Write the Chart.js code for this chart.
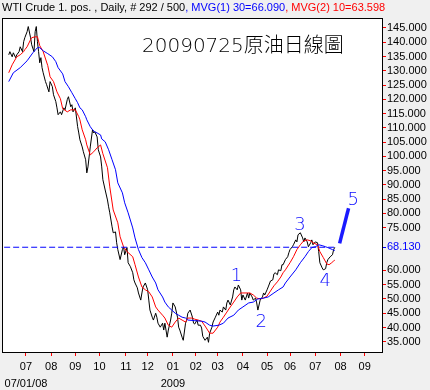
<!DOCTYPE html>
<html>
<head>
<meta charset="utf-8">
<script src="https://cdn.jsdelivr.net/npm/chart.js@4.4.1/dist/chart.umd.min.js"></script>
<style>
  html, body { margin: 0; padding: 0; background: #f0f0f0; }
  canvas { display: block; }
</style>
</head>
<body>
<canvas id="chart" width="430" height="390"></canvas>
<script>
// x values are trading days counted from 2008-07-01 (day 0)
const monthTickDays = [0, 22, 43, 64, 87, 106, 128, 148, 167, 189, 210, 230, 252, 274, 295];
const monthLabels = [["07", "07/01/08"], "08", "09", "10", "11", "12", ["01", "2009"], "02", "03", "04", "05", "06", "07", "08", "09"];

const priceTicks = [145, 140, 135, 130, 125, 120, 115, 110, 105, 100, 95, 90, 85, 80, 75, 68.13, 60, 55, 50, 45, 40, 35];
const levelValue = 68.13;

const priceDays = [-15, -14, -12, -11, -9, -8, -6, -5, -3, -2, -1, 1, 2, 4, 5, 7, 8, 9, 10, 11, 12, 13, 14, 15, 17, 18, 20, 21, 23, 24,
  26, 27, 28, 30, 31, 33, 34, 36, 37, 39, 40, 41, 43, 45, 46, 47, 49, 50, 52, 53, 54, 56, 58, 59, 60, 62, 63, 65, 66, 67,
  69, 71, 72, 73, 75, 76, 78, 79, 80, 82, 84, 85, 86, 88, 89, 91, 93, 94, 95, 97, 98, 100, 101, 102, 104, 106, 107, 108, 110, 111,
  113, 114, 115, 117, 119, 120, 121, 123, 124, 126, 127, 128, 130, 132, 133, 134, 136, 137, 139, 140, 141, 143, 145, 146, 147, 149, 150, 152, 153, 154,
  156, 158, 159, 160, 162, 163, 165, 167, 168, 169, 171, 172, 174, 175, 176, 178, 180, 181, 182, 184, 185, 187, 188, 189, 191, 193, 194, 195, 197, 198,
  200, 201, 202, 204, 206, 207, 208, 210, 211, 213, 215, 216, 217, 219, 220, 222, 223, 224, 226, 228, 229, 230, 232, 233, 235, 236, 237, 239, 241, 242,
  243, 245, 246, 248, 249, 250, 252, 254, 255, 256, 258, 259, 261, 262, 263, 265, 267, 268, 269];
const priceValues = [135.6, 136.7, 134.9, 136.3, 134.6, 135.6, 136.7, 138.4, 136.7, 140.2, 141.6, 143.7, 145.5, 141.6, 139.1, 136.7, 143.7, 145.5, 140.2, 136.7, 132.8, 134.6, 131.1, 129.3, 126.2, 125.1, 122.6, 126.2, 124.4, 121.6,
  119.2, 117.0, 114.6, 115.6, 114.6, 117.0, 116.3, 119.9, 120.9, 117.4, 118.1, 115.6, 117.0, 110.4, 108.2, 105.8, 103.3, 101.6, 98.8, 94.2, 96.3, 103.3, 109.3, 108.2, 108.6, 106.8, 102.3, 99.8, 96.3, 91.8,
  88.2, 84.7, 82.3, 80.2, 75.3, 73.2, 73.5, 69.7, 67.3, 63.8, 67.3, 68.3, 65.5, 68.0, 62.7, 61.3, 59.2, 56.7, 55.6, 53.9, 52.1, 49.6, 52.1, 54.2, 55.6, 53.2, 49.6, 46.1, 43.6, 42.6,
  45.0, 43.6, 41.5, 40.1, 41.5, 39.1, 41.5, 36.6, 39.1, 42.6, 45.0, 48.6, 47.2, 43.6, 40.1, 39.1, 36.6, 35.5, 41.5, 42.6, 45.0, 46.1, 43.6, 41.5, 41.2, 42.6, 40.8, 40.8, 39.8, 36.9,
  35.5, 36.6, 34.8, 38.0, 40.1, 41.9, 43.6, 45.4, 44.3, 46.1, 45.4, 47.2, 46.1, 48.6, 49.6, 47.9, 50.7, 53.2, 54.2, 53.2, 54.9, 53.2, 49.6, 51.4, 49.6, 52.1, 50.3, 52.1, 50.7, 49.6,
  50.3, 48.6, 46.1, 49.6, 50.7, 52.1, 51.4, 53.2, 54.2, 56.3, 56.7, 58.8, 59.2, 58.5, 60.2, 59.9, 62.0, 62.0, 63.8, 64.8, 66.2, 67.3, 68.3, 69.0, 70.7, 70.0, 72.5, 73.2, 71.4, 70.0,
  71.4, 70.0, 68.3, 69.7, 70.7, 69.0, 70.0, 69.7, 66.6, 62.7, 60.9, 60.2, 60.6, 62.7, 63.8, 64.8, 65.5, 67.3, 68.1];

// MVG(2) 10
const ma10Days = [-15, -12, -8, -5, -2, -1, 1, 4, 5, 8, 10, 12, 15, 19, 21, 24, 27, 30, 32, 36, 39, 41, 43, 46, 47, 49, 52, 53, 56, 59,
  62, 65, 67, 71, 73, 76, 80, 82, 85, 88, 93, 95, 98, 101, 104, 107, 110, 113, 115, 119, 121, 124, 127, 130, 133, 136, 139, 141, 145, 147,
  150, 153, 156, 160, 163, 167, 169, 172, 175, 178, 181, 184, 187, 189, 193, 195, 198, 201, 204, 207, 210, 213, 216, 219, 222, 224, 226, 230, 233, 236,
  239, 242, 245, 248, 250, 254, 256, 259, 262, 264, 266, 268, 269];
const ma10Values = [129.3, 132.1, 134.9, 135.6, 136.7, 137.4, 138.4, 140.9, 141.6, 141.9, 141.9, 138.8, 136.7, 131.8, 127.9, 126.2, 122.6, 120.2, 116.7, 115.6, 116.3, 116.3, 116.3, 113.9, 112.8, 109.3, 105.8, 104.0, 100.5, 101.6,
  103.0, 104.0, 100.9, 96.0, 89.3, 81.2, 76.7, 71.8, 68.3, 66.6, 64.8, 62.0, 57.7, 54.2, 53.2, 52.5, 50.7, 47.2, 46.1, 44.3, 43.3, 40.8, 40.1, 41.9, 43.3, 42.6, 41.9, 43.3, 43.3, 42.9,
  42.6, 42.2, 40.5, 38.0, 38.0, 40.1, 41.9, 43.6, 45.4, 47.2, 48.9, 50.7, 52.1, 52.1, 52.1, 52.1, 51.4, 50.3, 50.0, 50.3, 51.0, 52.8, 54.6, 56.0, 57.7, 59.2, 60.2, 62.7, 64.8, 67.3,
  69.0, 70.4, 70.7, 70.4, 69.7, 69.0, 66.6, 64.5, 62.3, 62.0, 62.6, 63.3, 63.6];

// MVG(1) 30
const ma30Days = [-15, -11, -5, 1, 6, 10, 12, 15, 19, 23, 26, 28, 32, 34, 37, 40, 43, 45, 47, 49, 52, 53, 56, 58, 60, 62, 65, 66, 69, 72,
  75, 78, 80, 84, 86, 89, 93, 95, 98, 101, 104, 107, 110, 113, 115, 119, 121, 124, 127, 130, 133, 136, 139, 141, 147, 153, 156, 160, 163, 168,
  172, 176, 181, 185, 189, 194, 198, 202, 207, 211, 216, 220, 224, 226, 230, 235, 239, 243, 246, 249, 252, 255, 258, 261, 263, 267, 269];
const ma30Values = [126.2, 129.3, 131.1, 133.5, 136.3, 138.1, 138.1, 137.0, 136.0, 134.9, 133.2, 131.1, 128.9, 126.2, 124.4, 122.3, 120.2, 118.8, 117.0, 116.3, 113.9, 112.8, 110.4, 109.3, 108.6, 108.2, 107.5, 106.1, 105.1, 102.3,
  98.8, 95.3, 90.7, 87.2, 83.7, 80.2, 74.9, 71.4, 67.3, 64.5, 62.7, 60.2, 57.7, 55.6, 53.2, 50.7, 48.9, 47.2, 46.1, 45.0, 44.3, 43.6, 43.3, 42.6, 42.4, 42.2, 41.9, 40.8, 40.5, 40.8,
  41.5, 43.3, 44.3, 46.1, 47.2, 48.6, 48.9, 50.0, 50.3, 50.7, 52.1, 53.2, 54.2, 55.6, 57.7, 60.2, 62.7, 64.8, 66.6, 68.0, 68.3, 69.0, 68.7, 68.3, 68.0, 67.3, 67.0];

// hand drawn level and wave projection
const levelDays = [-19, 270];
const waveLineDays = [273.2, 281.0];
const waveLineValues = [69.5, 81.8];
const waveNames = ["1", "2", "3", "4", "5"];
const waveNameDays = [183.4, 205.0, 238.7, 260.7, 285.1];
const waveNameValues = [58.4, 42.3, 76.3, 56.7, 85.1];

const toPoints = (xs, ys) => xs.map((x, i) => ({ x, y: ys[i] }));

const overlay = {
  id: "overlay",
  beforeDraw(chart) {
    const { ctx, chartArea: a } = chart;
    ctx.save();
    ctx.fillStyle = "#f0f0f0";
    ctx.fillRect(0, 0, chart.width, chart.height);
    ctx.fillStyle = "#ffffff";
    ctx.fillRect(a.left, a.top, a.right - a.left, a.bottom - a.top);
    ctx.restore();
  },
  afterDraw(chart) {
    const { ctx, chartArea: a, scales } = chart;
    ctx.save();
    ctx.strokeStyle = "#000000";
    ctx.lineWidth = 1;
    ctx.strokeRect(Math.round(a.left) - 0.5, Math.round(a.top) + 0.5, Math.round(a.right - a.left), Math.round(a.bottom - a.top));

    // header line
    ctx.font = '11px "Liberation Sans", Arial, sans-serif';
    ctx.textBaseline = "alphabetic";
    let x = 2;
    [["WTI Crude 1. pos. , Daily, # 292 / 500", "#000000"],
     [", MVG(1) 30=66.090", "#0000ff"],
     [", MVG(2) 10=63.598", "#ff0000"]].forEach(([t, c]) => {
      ctx.fillStyle = c;
      ctx.fillText(t, x, 11);
      x += ctx.measureText(t).width;
    });

    // title
    ctx.font = '200 20px "DejaVu Sans", "Noto Sans CJK TC", sans-serif';
    ctx.fillStyle = "#000000";
    ctx.fillText("20090725原油日線圖", 142, 52);

    // wave counts
    ctx.font = '200 18px "DejaVu Sans", sans-serif';
    ctx.fillStyle = "#0a0aff";
    ctx.textAlign = "center";
    waveNames.forEach((n, i) => {
      const px = scales.x.getPixelForValue(waveNameDays[i]);
      const py = scales.y.getPixelForValue(waveNameValues[i]);
      ctx.fillText(n, px, py + 6.5);
    });
    ctx.restore();
  }
};

const tickFont = { family: '"Liberation Sans", Arial, sans-serif', size: 11, lineHeight: 1.55 };

new Chart(document.getElementById("chart"), {
  type: "line",
  data: {
    datasets: [
      { label: "Wave 5", data: toPoints(waveLineDays, waveLineValues), borderColor: "#1a1aff", borderWidth: 3.5 },
      { label: "68.130", data: toPoints(levelDays, [levelValue, levelValue]), borderColor: "#0000ff", borderWidth: 1, borderDash: [6, 3] },
      { label: "MVG(1) 30", data: toPoints(ma30Days, ma30Values), borderColor: "#0000ff" },
      { label: "MVG(2) 10", data: toPoints(ma10Days, ma10Values), borderColor: "#ff0000" },
      { label: "WTI Crude", data: toPoints(priceDays, priceValues), borderColor: "#000000" }
    ]
  },
  options: {
    responsive: false,
    animation: false,
    devicePixelRatio: 1,
    layout: { padding: { left: 3, top: 18, right: 0, bottom: 0 } },
    elements: {
      point: { radius: 0 },
      line: { tension: 0, borderWidth: 1, fill: false }
    },
    plugins: { legend: { display: false }, tooltip: { enabled: false } },
    scales: {
      x: {
        type: "linear",
        min: -20,
        max: 311,
        afterBuildTicks: (s) => { s.ticks = monthTickDays.map((v) => ({ value: v })); },
        afterFit: (s) => { s.height = 38; },
        ticks: {
          autoSkip: false,
          maxRotation: 0,
          padding: 2,
          color: "#000000",
          font: tickFont,
          callback: (v) => {
            const k = monthTickDays.indexOf(v);
            return k >= 0 ? monthLabels[k] : "";
          }
        },
        grid: { drawOnChartArea: false, drawTicks: true, tickLength: 4, tickColor: "#ff0000" },
        border: { display: false }
      },
      y: {
        type: "linear",
        position: "right",
        min: 31.4,
        max: 148.5,
        afterBuildTicks: (s) => { s.ticks = priceTicks.map((v) => ({ value: v })); },
        afterFit: (s) => { s.width = 47; },
        ticks: {
          autoSkip: false,
          padding: 1,
          font: { family: '"Liberation Sans", Arial, sans-serif', size: 11, lineHeight: 1 },
          color: (c) => (c.tick && c.tick.value === levelValue ? "#0000ff" : "#000000"),
          callback: (v) => Number(v).toFixed(3)
        },
        grid: {
          drawOnChartArea: false,
          drawTicks: true,
          tickLength: 3,
          tickColor: (c) => (c.tick && c.tick.value === levelValue ? "#0000ff" : "#ff0000")
        },
        border: { display: false }
      }
    }
  },
  plugins: [overlay]
});
</script>
</body>
</html>
